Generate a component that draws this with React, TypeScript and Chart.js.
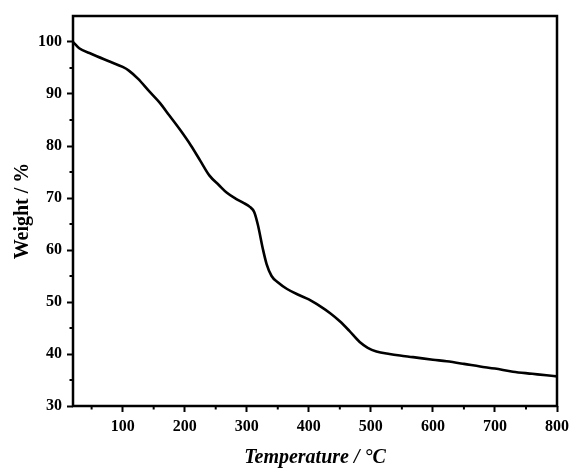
import React, { useEffect, useRef } from "react";
import { Chart, registerables } from "chart.js";

Chart.register(...registerables);

// TGA curve: temperature (°C) and residual weight (%)
const temperature = [
  20, 30, 50, 80, 100, 110, 125, 143, 160, 175, 192, 210, 225, 240, 255, 268,
  282, 294, 305, 312, 318, 326, 332, 340, 350, 365, 385, 400, 418, 435, 450,
  465, 482, 495, 509, 530, 547, 568, 600, 622, 650, 676, 700, 729, 760, 783, 800,
];
const weight = [
  100, 98.8, 97.7, 96.2, 95.2, 94.5, 92.9, 90.5, 88.3, 85.9, 83.2, 80.1, 77.2,
  74.3, 72.5, 71, 69.9, 69.1, 68.3, 67.3, 64.8, 60.2, 57.3, 55, 53.8, 52.5,
  51.3, 50.5, 49.2, 47.8, 46.3, 44.5, 42.3, 41.2, 40.5, 40, 39.7, 39.4, 38.9,
  38.6, 38.1, 37.6, 37.2, 36.6, 36.2, 35.9, 35.7,
];

const xTicks = [100, 200, 300, 400, 500, 600, 700, 800];
const xMinorTicks = [50, 150, 250, 350, 450, 550, 650, 750];
const yTicks = [30, 40, 50, 60, 70, 80, 90, 100];
const yMinorTicks = [35, 45, 55, 65, 75, 85, 95];

const xTitle = "Temperature / °C";
const yTitle = "Weight / %";

const FONT = "'Liberation Serif', 'Times New Roman', serif";

// Draws the closed frame around the plot and the short minor ticks
const framePlugin = {
  id: "frame",
  afterDraw(chart: any) {
    const { ctx, chartArea, scales } = chart;
    const { left, right, top, bottom } = chartArea;
    ctx.save();
    ctx.strokeStyle = "#000";
    ctx.lineWidth = 2;
    xMinorTicks.forEach((v) => {
      const px = scales.x.getPixelForValue(v);
      ctx.beginPath();
      ctx.moveTo(px, bottom);
      ctx.lineTo(px, bottom + 3.5);
      ctx.stroke();
    });
    yMinorTicks.forEach((v) => {
      const py = scales.y.getPixelForValue(v);
      ctx.beginPath();
      ctx.moveTo(left, py);
      ctx.lineTo(left - 3.5, py);
      ctx.stroke();
    });
    ctx.lineWidth = 2.5;
    ctx.strokeRect(left, top, right - left, bottom - top);
    ctx.restore();
  },
};

export default function App() {
  const canvasRef = useRef<HTMLCanvasElement | null>(null);

  useEffect(() => {
    if (!canvasRef.current) return;
    const chart = new Chart(canvasRef.current, {
      type: "line",
      data: {
        datasets: [
          {
            data: temperature.map((t, i) => ({ x: t, y: weight[i] })),
            borderColor: "#000",
            borderWidth: 2.6,
            pointRadius: 0,
            tension: 0.4,
            cubicInterpolationMode: "monotone",
            fill: false,
          },
        ],
      },
      options: {
        animation: false,
        responsive: false,
        layout: { padding: { top: 16, right: 14, left: 0, bottom: 0 } },
        plugins: { legend: { display: false }, tooltip: { enabled: false } },
        scales: {
          x: {
            type: "linear",
            min: 20,
            max: 800,
            afterBuildTicks: (scale: any) => {
              scale.ticks = xTicks.map((v) => ({ value: v }));
            },
            afterFit: (scale: any) => {
              scale.height = 65;
              scale.paddingRight = 0;
              scale.paddingLeft = 0;
            },
            border: { display: false },
            grid: {
              drawOnChartArea: false,
              drawTicks: true,
              tickLength: 6,
              tickWidth: 2,
              tickColor: "#000",
            },
            ticks: {
              color: "#000",
              padding: 5,
              maxRotation: 0,
              font: { family: FONT, size: 16, weight: "bold" },
            },
            title: {
              display: true,
              text: xTitle,
              color: "#000",
              padding: { top: 0, bottom: 1 },
              font: { family: FONT, size: 20, weight: "bold", style: "italic" },
            },
          },
          y: {
            type: "linear",
            min: 30,
            max: 105,
            afterBuildTicks: (scale: any) => {
              scale.ticks = yTicks.map((v) => ({ value: v }));
            },
            afterFit: (scale: any) => {
              scale.width = 73;
              scale.paddingTop = 0;
              scale.paddingBottom = 0;
            },
            border: { display: false },
            grid: {
              drawOnChartArea: false,
              drawTicks: true,
              tickLength: 6,
              tickWidth: 2,
              tickColor: "#000",
            },
            ticks: {
              color: "#000",
              padding: 5,
              font: { family: FONT, size: 16, weight: "bold" },
            },
            title: {
              display: true,
              text: yTitle,
              color: "#000",
              padding: { top: 11, bottom: 0 },
              font: { family: FONT, size: 20, weight: "bold" },
            },
          },
        },
      },
      plugins: [framePlugin],
    } as any);
    return () => chart.destroy();
  }, []);

  return (
    <div style={{ position: "absolute", left: 0, top: 0, width: 571, height: 471, background: "#fff" }}>
      <canvas ref={canvasRef} width={571} height={471} />
    </div>
  );
}
